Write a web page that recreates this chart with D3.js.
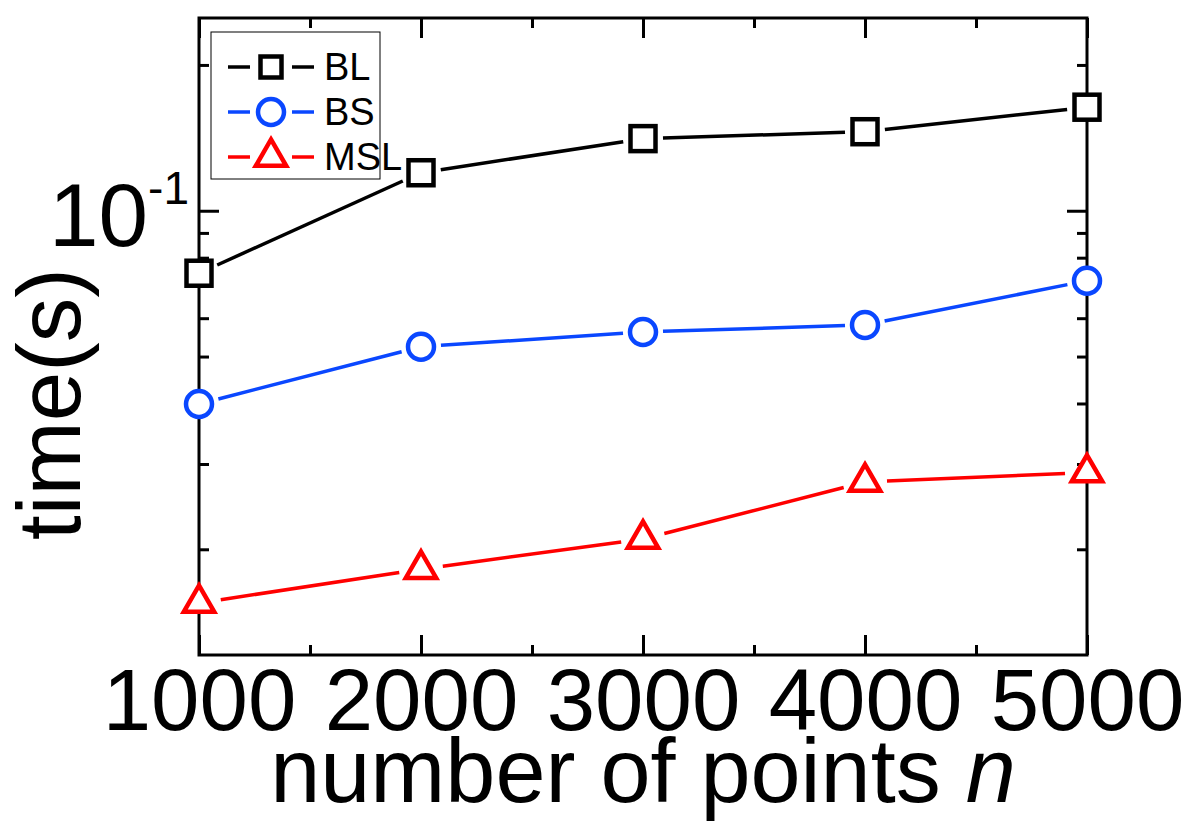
<!DOCTYPE html>
<meta charset="utf-8">
<script src="https://d3js.org/d3.v7.min.js"></script>
<style>
  body { margin: 0; background: #fff; }
  text { font-family: "Liberation Sans", Arial, sans-serif; }
</style>
<div id="chart"></div>
<script>

// data
var nPoints = [1000, 2000, 3000, 4000, 5000];
var blTime  = [0.0743, 0.1198, 0.1409, 0.1456, 0.1636];
var bsTime  = [0.0399, 0.0524, 0.0562, 0.0581, 0.0717];
var mslTime = [0.01549, 0.0182, 0.0210, 0.02754, 0.0288];
var seriesNames = ["BL", "BS", "MSL"];

var xMajor = [1000, 2000, 3000, 4000, 5000];
var xMinor = [1500, 2500, 3500, 4500];
var yMajor = [0.1];
var yMinor = [0.02, 0.03, 0.04, 0.05, 0.06, 0.07, 0.08, 0.09, 0.2];

var W = 1193, H = 831;
var margin = {top: 18, right: 106, bottom: 176, left: 199};

var svg = d3.select("#chart").append("svg")
  .attr("width", W)
  .attr("height", H);

var x = d3.scaleLinear().domain([1000, 5000]).range([margin.left, W - margin.right]);
var y = d3.scaleLog().domain([0.0121, 0.25]).range([H - margin.bottom, margin.top]);

var x0 = x.range()[0], x1 = x.range()[1];
var y0 = y.range()[0], y1 = y.range()[1];

// axes (ticks point inward on all four sides)
function styleAxis(g) {
  g.select(".domain").remove();
  g.selectAll(".tick line").attr("stroke", "#000").attr("stroke-width", 3);
}

svg.append("g")
  .attr("transform", "translate(0," + y0 + ")")
  .call(d3.axisBottom(x).tickValues(xMajor).tickSize(-20).tickPadding(13).tickFormat(d3.format("d")))
  .call(styleAxis)
  .call(function(g) {
    g.selectAll("text")
      .attr("font-size", 87)
      .attr("font-family", '"Liberation Sans", Arial, sans-serif')
      .attr("fill", "#000");
  });
svg.append("g")
  .attr("transform", "translate(0," + y0 + ")")
  .call(d3.axisBottom(x).tickValues(xMinor).tickSize(-10).tickFormat(""))
  .call(styleAxis);
svg.append("g")
  .attr("transform", "translate(0," + y1 + ")")
  .call(d3.axisTop(x).tickValues(xMajor).tickSize(-20).tickFormat(""))
  .call(styleAxis);
svg.append("g")
  .attr("transform", "translate(0," + y1 + ")")
  .call(d3.axisTop(x).tickValues(xMinor).tickSize(-10).tickFormat(""))
  .call(styleAxis);

svg.append("g")
  .attr("transform", "translate(" + x0 + ",0)")
  .call(d3.axisLeft(y).tickValues(yMajor).tickSize(-20).tickFormat(""))
  .call(styleAxis);
svg.append("g")
  .attr("transform", "translate(" + x0 + ",0)")
  .call(d3.axisLeft(y).tickValues(yMinor).tickSize(-10).tickFormat(""))
  .call(styleAxis);
svg.append("g")
  .attr("transform", "translate(" + x1 + ",0)")
  .call(d3.axisRight(y).tickValues(yMajor).tickSize(-20).tickFormat(""))
  .call(styleAxis);
svg.append("g")
  .attr("transform", "translate(" + x1 + ",0)")
  .call(d3.axisRight(y).tickValues(yMinor).tickSize(-10).tickFormat(""))
  .call(styleAxis);

// 10^-1 label
var yLab = svg.append("text")
  .attr("x", x0 - 10)
  .attr("y", y(0.1) + 35)
  .attr("text-anchor", "end")
  .attr("font-size", 89)
  .attr("fill", "#000");
yLab.append("tspan").text("10");
yLab.append("tspan").attr("font-size", 46).attr("dy", -42).text("-1");

// frame
svg.append("rect")
  .attr("x", x0).attr("y", y1)
  .attr("width", x1 - x0).attr("height", y0 - y1)
  .attr("fill", "none")
  .attr("stroke", "#000")
  .attr("stroke-width", 3);

// axis titles
svg.append("text")
  .attr("transform", "translate(80,404) rotate(-90)")
  .attr("text-anchor", "middle")
  .attr("font-size", 89)
  .attr("fill", "#000")
  .text("time(s)");

var xt = svg.append("text")
  .attr("x", (x0 + x1) / 2)
  .attr("y", 802)
  .attr("text-anchor", "middle")
  .attr("font-size", 90)
  .attr("fill", "#000");
xt.append("tspan").text("number of points ");
xt.append("tspan").attr("font-style", "italic").text("n");

// series
var series = [
  {name: seriesNames[0], values: blTime,  color: "#000000", shape: "square",   gap: 20},
  {name: seriesNames[1], values: bsTime,  color: "#0a47ff", shape: "circle",   gap: 20},
  {name: seriesNames[2], values: mslTime, color: "#ff0000", shape: "triangle", gap: 22}
];

function drawMarker(g, shape, cx, cy, color, small) {
  if (shape === "square") {
    var s = small ? 21 : 25;
    g.append("rect")
      .attr("x", cx - s / 2).attr("y", cy - s / 2)
      .attr("width", s).attr("height", s)
      .attr("fill", "#fff").attr("stroke", color).attr("stroke-width", 4.5);
  } else if (shape === "circle") {
    g.append("circle")
      .attr("cx", cx).attr("cy", cy).attr("r", 13)
      .attr("fill", "#fff").attr("stroke", color).attr("stroke-width", 4.5);
  } else {
    g.append("path")
      .attr("d", d3.symbol(d3.symbolTriangle, 400)())
      .attr("transform", "translate(" + cx + "," + cy + ")")
      .attr("fill", "#fff").attr("stroke", color).attr("stroke-width", 4.5);
  }
}

series.forEach(function(s) {
  var g = svg.append("g");
  var pts = nPoints.map(function(n, i) { return [x(n), y(s.values[i])]; });
  // line segments stop short of the markers
  for (var i = 0; i < pts.length - 1; i++) {
    var a = pts[i], b = pts[i + 1];
    var dx = b[0] - a[0], dy = b[1] - a[1];
    var len = Math.sqrt(dx * dx + dy * dy);
    var ux = dx / len, uy = dy / len;
    g.append("line")
      .attr("x1", a[0] + ux * s.gap).attr("y1", a[1] + uy * s.gap)
      .attr("x2", b[0] - ux * s.gap).attr("y2", b[1] - uy * s.gap)
      .attr("stroke", s.color)
      .attr("stroke-width", 3.5);
  }
  pts.forEach(function(p) { drawMarker(g, s.shape, p[0], p[1], s.color, false); });
});

// legend
var legend = svg.append("g");
legend.append("rect")
  .attr("x", 211).attr("y", 32)
  .attr("width", 169).attr("height", 147)
  .attr("fill", "#fff")
  .attr("stroke", "#000")
  .attr("stroke-width", 1);

series.forEach(function(s, i) {
  var cy = 67 + i * 45, cx = 271;
  legend.append("line")
    .attr("x1", cx - 43).attr("x2", cx - 21).attr("y1", cy).attr("y2", cy)
    .attr("stroke", s.color).attr("stroke-width", 3.5);
  legend.append("line")
    .attr("x1", cx + 21).attr("x2", cx + 43).attr("y1", cy).attr("y2", cy)
    .attr("stroke", s.color).attr("stroke-width", 3.5);
  drawMarker(legend, s.shape, cx, cy, s.color, true);
  legend.append("text")
    .attr("x", 324).attr("y", cy + 13)
    .attr("font-size", 38)
    .attr("fill", "#000")
    .text(s.name);
});

</script>
